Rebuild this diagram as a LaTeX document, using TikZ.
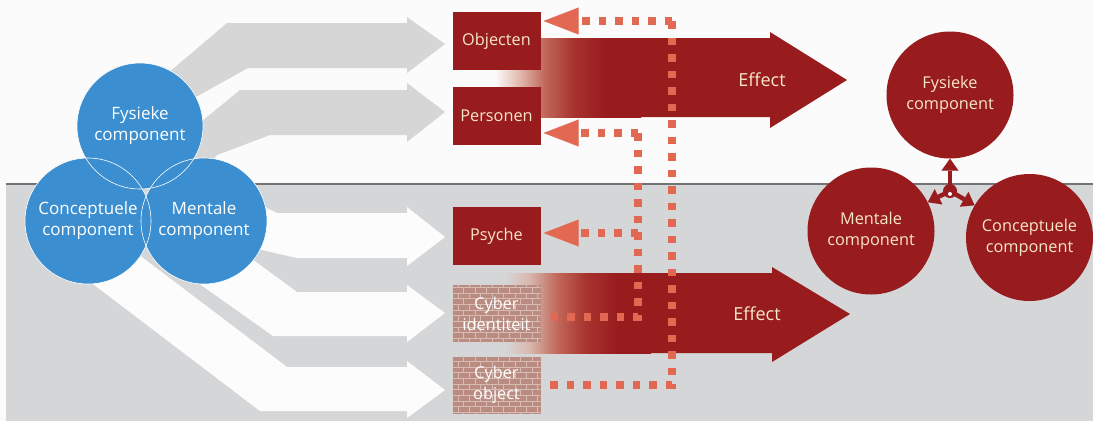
\documentclass[tikz,border=0pt]{standalone}
\usepackage{fontspec}
\setmainfont{Open Sans}
\usetikzlibrary{arrows.meta,patterns}

\definecolor{bluec}{HTML}{3B8ED0}
\definecolor{darkred}{HTML}{981B1E}
\definecolor{cream}{HTML}{F6E7C9}
\definecolor{salmon}{HTML}{E26852}
\definecolor{bgtop}{HTML}{FBFBFB}
\definecolor{bglow}{HTML}{D5D6D8}
\definecolor{arrowgray}{HTML}{D6D6D6}
\definecolor{arrowwhite}{HTML}{FCFCFC}
\definecolor{brick}{HTML}{BA8C81}
\definecolor{brickline}{HTML}{D8BCB3}
\definecolor{fadea}{HTML}{E2BDB2}
\definecolor{fadeb}{HTML}{C1675A}
\definecolor{fadec}{HTML}{A8322D}
\definecolor{fadelowa}{HTML}{D9B9AF}

% soft start of the effect arrows
\pgfdeclarehorizontalshading{fadetop}{100bp}{color(0bp)=(bgtop); color(25bp)=(bgtop);
  color(33bp)=(fadea); color(42bp)=(fadeb); color(52bp)=(fadec);
  color(63bp)=(darkred); color(100bp)=(darkred)}
\pgfdeclarehorizontalshading{fadelow}{100bp}{color(0bp)=(bglow); color(25bp)=(bglow);
  color(33bp)=(fadelowa); color(43bp)=(fadeb); color(53bp)=(fadec);
  color(64bp)=(darkred); color(100bp)=(darkred)}

\tikzset{
  bluecirc/.style={circle, minimum size=126pt, inner sep=0pt, fill=bluec,
    text=white, align=center, font=\fontsize{17}{21}\selectfont},
  redcirc/.style={circle, minimum size=127pt, inner sep=0pt, fill=darkred,
    text=cream, align=center, font=\fontsize{16.3}{21}\selectfont},
  redbox/.style={rectangle, minimum width=88pt, minimum height=58pt, inner sep=0pt,
    fill=darkred, text=cream, font=\fontsize{16.3}{20}\selectfont},
  cyberbox/.style={rectangle, minimum width=88pt, minimum height=57pt, inner sep=0pt,
    fill=brick, postaction={pattern=bricks, pattern color=brickline},
    text=white, align=center, font=\fontsize{16.3}{21}\selectfont},
  dotline/.style={draw=salmon, line width=7.5pt, dash pattern=on 7.5pt off 9pt},
  backtip/.style={-{Triangle[length=35pt,width=27pt,line width=0.01pt]}, shorten >=3pt},
  effecttext/.style={text=cream, font=\fontsize{18}{22}\selectfont},
  linkarrow/.style={draw=darkred, line width=4.5pt,
    -{Triangle[length=12pt,width=17pt,line width=0.01pt]}},
}

\begin{document}
\begin{tikzpicture}[x=1pt,y=-1pt]
\useasboundingbox (0,0) rectangle (1093,421);

% two horizontal zones
\fill[bgtop] (0,0) rectangle (1093,421);
\fill[bglow] (6,184) rectangle (1093,421);
\draw[line width=1.2pt, black!55] (6,184) -- (1093,184);

% broad arrows from the components to the targets (upper zone)
\fill[arrowgray] (160,80) -- (227,23) -- (407,23) -- (407,17) -- (445,44)
  -- (407,73) -- (407,68) -- (248,68) -- (185,103) -- cycle;
\fill[arrowgray] (185,135) -- (240,90) -- (407,90) -- (407,83) -- (445,112)
  -- (407,142) -- (407,135) -- (270,135) -- (217,155) -- (200,175) -- cycle;

% broad arrows (lower zone)
\fill[arrowwhite] (245,203) -- (265,207) -- (277,213) -- (407,213) -- (407,207)
  -- (445,237) -- (407,266) -- (407,258) -- (297,258) -- (262,250) -- (240,240) -- cycle;
\fill[arrowwhite] (230,243) -- (297,292) -- (407,292) -- (407,285) -- (445,313)
  -- (407,342) -- (407,336) -- (273,336) -- (170,263) -- cycle;
\fill[arrowwhite] (130,248) -- (287,367) -- (407,367) -- (407,361) -- (445,390)
  -- (407,418) -- (407,411) -- (260,411) -- (85,278) -- cycle;

% the three components (left)
\node[bluecirc] (bfys) at (140,126) {Fysieke\\component};
\node[bluecirc] (bcon) at (88,221) {Conceptuele\\component};
\node[bluecirc] (bmen) at (204,221) {Mentale\\component};
\foreach \c in {bfys,bcon,bmen}
  \draw[white, line width=0.6pt] (\c.center) circle[radius=63pt];

% upper effect arrow
\shade[shading=fadetop] (495,38) rectangle (641,117);
\fill[darkred] (640,38) -- (770,38) -- (770,32) -- (847,80) -- (770,128)
  -- (770,117) -- (640,117) -- cycle;
\node[effecttext] (eff1) at (762,80) {Effect};

% lower effect arrow
\shade[shading=fadelow] (505,273) rectangle (651,353);
\fill[darkred] (650,273) -- (772,273) -- (772,267) -- (850,314) -- (772,362)
  -- (772,353) -- (650,353) -- cycle;
\node[effecttext] (eff2) at (757,314) {Effect};

% targets
\node[redbox] (obj) at (496.5,41) {Objecten};
\node[redbox] (pers) at (496.5,116) {Personen};
\node[redbox] (psy) at (496.5,236) {Psyche};
\node[cyberbox] (cid) at (496.5,313.5) {Cyber\\identiteit};
\node[cyberbox] (cob) at (496.5,385) {Cyber\\object};

% feedback routes
\coordinate (ja) at (672,21);
\coordinate (jb) at (672,385);
\coordinate (jc) at (638,133);
\coordinate (jd) at (638,317);
\coordinate (je) at (638,233);
\draw[dotline, backtip] (ja) -- (ja -| obj.east);
\draw[dotline, shorten >=4pt] (ja) -- (jb) -- (jb -| cob.east);
\draw[dotline, backtip] (jc) -- (jc -| pers.east);
\draw[dotline, shorten >=4pt] (jc) -- (jd) -- (jd -| cid.east);
\draw[dotline, backtip] (je) -- (je -| psy.east);

% the three components (right)
\node[redcirc] (rfys) at (950,95) {Fysieke\\component};
\node[redcirc] (rmen) at (871,231) {Mentale\\component};
\node[redcirc] (rcon) at (1029.5,237.5) {Conceptuele\\component};

% interaction symbol
\coordinate (hub) at (950,191);
\draw[linkarrow] (hub) -- (rfys);
\draw[linkarrow] (hub) -- (rmen);
\draw[linkarrow] (hub) -- (rcon);
\fill[darkred] (hub) circle[radius=7pt];
\fill[white] (950,194) circle[radius=2pt];
\end{tikzpicture}
\end{document}
